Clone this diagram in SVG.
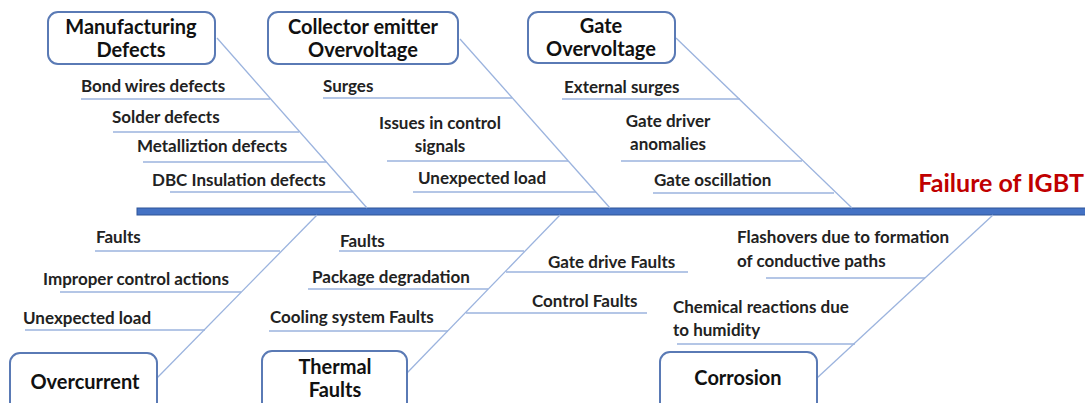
<svg xmlns="http://www.w3.org/2000/svg" width="1085" height="403" viewBox="0 0 1085 403">
<style>
.box{fill:#fff;stroke:#5a7ab5;stroke-width:2}
.bt{font-family:Lato,"Liberation Sans",sans-serif;font-weight:bold;font-size:20px;fill:#111;text-anchor:middle}
.lb{font-family:Lato,"Liberation Sans",sans-serif;font-weight:bold;font-size:17px;fill:#222}
.mid{text-anchor:middle}
.bone{stroke:#9bb3de;stroke-width:1.3;fill:none}
.ul{stroke:#9bb3de;stroke-width:1.6;fill:none}
.title{font-family:Lato,"Liberation Sans",sans-serif;font-weight:bold;font-size:25px;fill:#c00000;text-anchor:end}
</style>
<rect width="1085" height="403" fill="#fff"/>
<g id="connectors">
<rect x="137" y="208" width="950" height="7" fill="#4472c4" stroke="#2f5597" stroke-width="1"/>
<line class="bone" x1="217" y1="38" x2="367" y2="208"/>
<line class="bone" x1="460" y1="39" x2="610" y2="208"/>
<line class="bone" x1="676" y1="38" x2="852" y2="208"/>
<line class="bone" x1="157" y1="378" x2="317" y2="215"/>
<line class="bone" x1="407" y1="373" x2="560" y2="215"/>
<line class="bone" x1="817" y1="378" x2="993" y2="215"/>
<line class="ul" x1="81" y1="99" x2="270" y2="99"/>
<line class="ul" x1="113" y1="132" x2="299" y2="132"/>
<line class="ul" x1="143" y1="162" x2="326" y2="162"/>
<line class="ul" x1="170" y1="192" x2="353" y2="192"/>
<line class="ul" x1="323" y1="98" x2="512" y2="98"/>
<line class="ul" x1="387" y1="161" x2="568" y2="161"/>
<line class="ul" x1="413" y1="192" x2="596" y2="192"/>
<line class="ul" x1="562" y1="99" x2="740" y2="99"/>
<line class="ul" x1="621" y1="161" x2="802" y2="161"/>
<line class="ul" x1="653" y1="193" x2="834" y2="193"/>
<line class="ul" x1="95" y1="251" x2="280" y2="251"/>
<line class="ul" x1="60" y1="292" x2="241" y2="292"/>
<line class="ul" x1="25" y1="330" x2="205" y2="330"/>
<line class="ul" x1="339" y1="251" x2="524" y2="251"/>
<line class="ul" x1="308" y1="289" x2="488" y2="289"/>
<line class="ul" x1="269" y1="331" x2="448" y2="331"/>
<line class="ul" x1="506" y1="272" x2="688" y2="272"/>
<line class="ul" x1="466" y1="313" x2="647" y2="313"/>
<line class="ul" x1="766" y1="278" x2="925" y2="278"/>
<line class="ul" x1="677" y1="344" x2="855" y2="344"/>
</g>
<g id="node-manufacturing">
<rect class="box" x="48" y="12" width="167" height="52" rx="10"/>
<text class="bt" x="131" y="34">Manufacturing</text>
<text class="bt" x="131" y="57">Defects</text>
</g>
<g id="node-collector">
<rect class="box" x="268" y="12" width="190" height="52" rx="10"/>
<text class="bt" x="363" y="34">Collector emitter</text>
<text class="bt" x="363" y="57">Overvoltage</text>
</g>
<g id="node-gate">
<rect class="box" x="528" y="12" width="147" height="51" rx="10"/>
<text class="bt" x="601" y="33">Gate</text>
<text class="bt" x="601" y="56">Overvoltage</text>
</g>
<g id="node-overcurrent">
<rect class="box" x="10" y="353" width="147" height="60" rx="10"/>
<text class="bt" x="85" y="389">Overcurrent</text>
</g>
<g id="node-thermal">
<rect class="box" x="262" y="351" width="145" height="62" rx="10"/>
<text class="bt" x="335" y="374">Thermal</text>
<text class="bt" x="335" y="397">Faults</text>
</g>
<g id="node-corrosion">
<rect class="box" x="660" y="352" width="157" height="61" rx="10"/>
<text class="bt" x="738" y="385">Corrosion</text>
</g>
<g id="node-failure">
<text class="title" x="1084" y="192">Failure of IGBT</text>
</g>
<g id="labels">
<text class="lb" x="81" y="92">Bond wires defects</text>
<text class="lb" x="112" y="123">Solder defects</text>
<text class="lb" x="137" y="152">Metalliztion defects</text>
<text class="lb" x="152" y="186">DBC Insulation defects</text>
<text class="lb" x="323" y="92">Surges</text>
<text class="lb mid" x="440" y="129">Issues in control</text>
<text class="lb mid" x="440" y="152">signals</text>
<text class="lb" x="418" y="184">Unexpected load</text>
<text class="lb" x="564" y="93">External surges</text>
<text class="lb mid" x="668" y="127">Gate driver</text>
<text class="lb mid" x="668" y="150">anomalies</text>
<text class="lb" x="654" y="186">Gate oscillation</text>
<text class="lb" x="96" y="243">Faults</text>
<text class="lb" x="43" y="285">Improper control actions</text>
<text class="lb" x="23" y="324">Unexpected load</text>
<text class="lb" x="340" y="247">Faults</text>
<text class="lb" x="312" y="283">Package degradation</text>
<text class="lb" x="270" y="323">Cooling system Faults</text>
<text class="lb" x="548" y="268">Gate drive Faults</text>
<text class="lb" x="532" y="307">Control Faults</text>
<text class="lb" x="737" y="243">Flashovers due to formation</text>
<text class="lb" x="737" y="267">of conductive paths</text>
<text class="lb" x="673" y="313">Chemical reactions due</text>
<text class="lb" x="673" y="336">to humidity</text>
</g>
</svg>
